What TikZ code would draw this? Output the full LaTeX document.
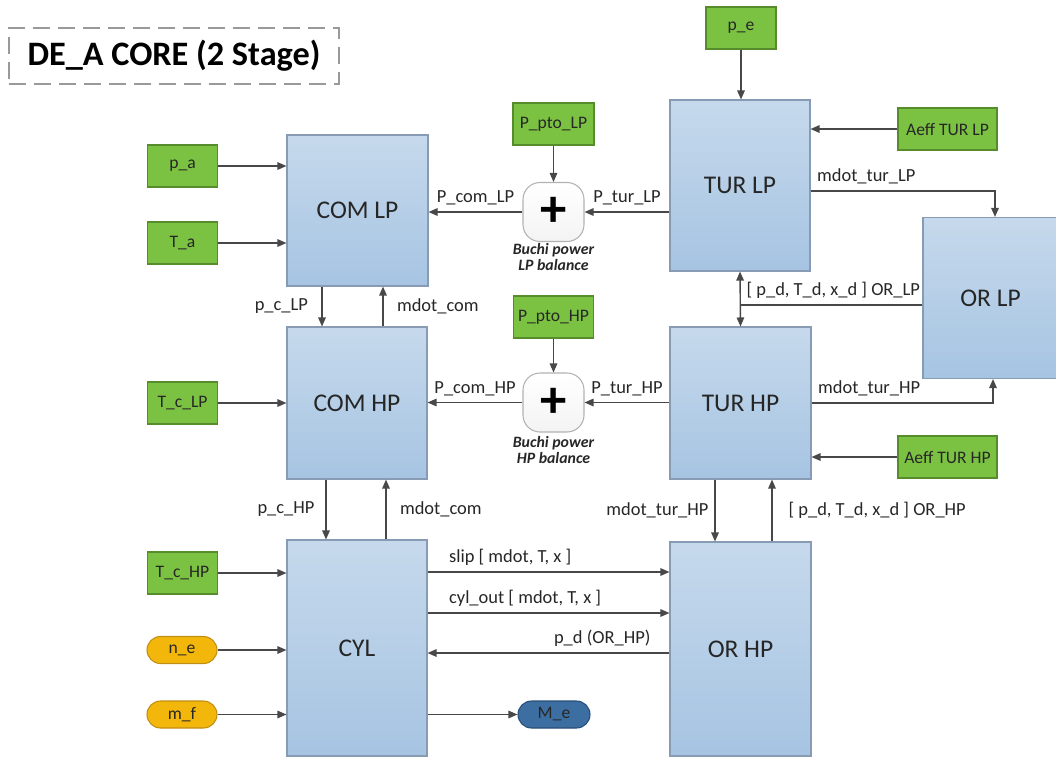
\documentclass[tikz,border=0pt]{standalone}
\usepackage{fontspec}
\setmainfont{Carlito}
\usetikzlibrary{calc,arrows.meta}

\definecolor{blktop}{RGB}{198,217,236}
\definecolor{blkbot}{RGB}{166,196,226}
\definecolor{blkline}{RGB}{135,155,180}
\definecolor{grn}{RGB}{124,194,66}
\definecolor{grnline}{RGB}{86,140,44}
\definecolor{ylw}{RGB}{243,183,12}
\definecolor{ylwline}{RGB}{192,142,18}
\definecolor{outb}{RGB}{60,110,162}
\definecolor{outbline}{RGB}{40,78,120}
\definecolor{wire}{RGB}{72,72,72}

\begin{document}
\begin{tikzpicture}[x=0.2mm,y=-0.2mm,
  >={Triangle[length=1.8mm,width=1.5mm]},
  blk/.style={draw=blkline,line width=0.6pt,top color=blktop,bottom color=blkbot,
    font=\fontsize{14.5}{16}\selectfont,text=black!85,inner sep=0pt},
  inp/.style={draw=grnline,line width=0.6pt,fill=grn,font=\fontsize{10}{12}\selectfont,
    text=black!85,minimum width=14mm,minimum height=8.4mm,inner sep=0pt},
  inr/.style={draw=ylwline,line width=0.6pt,fill=ylw,rounded corners=2.7mm,
    font=\fontsize{10}{12}\selectfont,text=black!85,minimum width=14mm,minimum height=5.4mm,inner sep=0pt},
  sumbox/.style={draw=gray!60,line width=0.6pt,top color=white,bottom color=gray!9,
    rounded corners=3.4mm,minimum width=12.2mm,minimum height=11.8mm,inner sep=0pt,
    font=\fontsize{30}{30}\selectfont\bfseries},
  note/.style={font=\fontsize{9}{9.5}\selectfont\bfseries\itshape,align=center,text=black!85},
  lbl/.style={font=\fontsize{10.5}{12}\selectfont,text=black!85},
  arr/.style={draw=wire,line width=0.8pt,->},
  link/.style={draw=wire,line width=0.8pt}]
  % 枠
  \useasboundingbox (0,0) rectangle (1056,758);
  \clip (0,0) rectangle (1056,758);
  % タイトル
  \node[draw=gray!80,dash pattern=on 3.4mm off 1.6mm,line width=0.9pt,minimum width=66mm,
    minimum height=11.2mm,font=\fontsize{19.5}{22}\selectfont\bfseries] (title) at (174,56) {DE\_A CORE (2 Stage)};
  % ブロック
  \node[blk,minimum width=28.2mm,minimum height=30.2mm] (comlp) at (357.5,210.5) {COM LP};
  \node[blk,minimum width=28mm,minimum height=30.4mm] (comhp) at (357,403) {COM HP};
  \node[blk,minimum width=28mm,minimum height=43.2mm] (cyl) at (357,648) {CYL};
  \node[blk,minimum width=28mm,minimum height=34.2mm] (turlp) at (740,185.5) {TUR LP};
  \node[blk,minimum width=28.2mm,minimum height=30.4mm] (turhp) at (740.5,403) {TUR HP};
  \node[blk,minimum width=27mm,minimum height=32.2mm] (orlp) at (990.5,298) {OR LP};
  \node[blk,minimum width=28.2mm,minimum height=42.8mm] (orhp) at (740.5,649) {OR HP};
  % 入力・出力
  \node[inp] (pa) at (182.5,166) {p\_a};
  \node[inp] (ta) at (182.5,243) {T\_a};
  \node[inp] (tclp) at (182.5,403) {T\_c\_LP};
  \node[inp] (tchp) at (182.5,573) {T\_c\_HP};
  \node[inr] (ne) at (182,650) {n\_e};
  \node[inr] (mf) at (182,714.5) {m\_f};
  \node[inr,fill=outb,draw=outbline,minimum width=14.4mm] (me) at (554,714.5) {M\_e};
  \node[inp] (pe) at (741,28) {p\_e};
  \node[inp,minimum width=19.8mm] (aefflp) at (947.5,129) {Aeff TUR LP};
  \node[inp,minimum width=19.8mm] (aeffhp) at (947.5,457) {Aeff TUR HP};
  \node[inp,minimum width=16.2mm] (pptolp) at (553.5,124) {P\_pto\_LP};
  \node[inp,minimum width=16mm] (pptohp) at (553.5,317) {P\_pto\_HP};
  % 動力バランス
  \node[sumbox] (sumlp) at (553.5,212) {+};
  \node[note] (notelp) at (553.5,257) {Buchi power\\LP balance};
  \node[sumbox] (sumhp) at (553.5,402.5) {+};
  \node[note] (notehp) at (553.5,450) {Buchi power\\HP balance};

  % 入力の矢印
  \draw[arr] (pa) -- (pa -| comlp.west);
  \draw[arr] (ta) -- (ta -| comlp.west);
  \draw[arr] (tclp) -- (tclp -| comhp.west);
  \draw[arr] (tchp) -- (tchp -| cyl.west);
  \draw[arr] (ne) -- (ne -| cyl.west);
  \draw[arr] (mf) -- (mf -| cyl.west);
  \draw[arr] (mf -| cyl.east) -- (me);
  % 動力
  \draw[arr] (pptolp) -- (sumlp);
  \draw[arr] (sumlp) -- node[lbl,above]{P\_com\_LP} (sumlp -| comlp.east);
  \draw[arr] (sumlp -| turlp.west) -- node[lbl,above]{P\_tur\_LP} (sumlp);
  \draw[arr] (pptohp) -- (sumhp);
  \draw[arr] (sumhp) -- node[lbl,above]{P\_com\_HP} (sumhp -| comhp.east);
  \draw[arr] (sumhp -| turhp.west) -- node[lbl,above]{P\_tur\_HP} (sumhp);
  % タービン
  \draw[arr] (pe) -- (pe |- turlp.north);
  \draw[arr] (aefflp) -- (aefflp -| turlp.east);
  \draw[arr] (aeffhp) -- (aeffhp -| turhp.east);
  \coordinate (tlpout) at ([yshift=-1.1mm]turlp.east);
  \draw[arr] (tlpout) node[lbl,above right]{mdot\_tur\_LP} -| ([xshift=0.9mm]orlp.north);
  \draw[arr] (turhp.east) node[lbl,above right]{mdot\_tur\_HP} -| ([xshift=0.5mm]orlp.south);
  \draw[arr,<->] (turlp.south) -- (turhp.north);
  \coordinate (orlpin) at ([yshift=-1.4mm]orlp.west);
  \draw[link] (orlpin) -- (orlpin -| turlp.south) node[lbl,above right]{[ p\_d, T\_d, x\_d ] OR\_LP};
  % 圧縮機
  \coordinate (pclp) at ([xshift=-7.1mm]comlp.south);
  \draw[arr] (pclp) -- node[lbl,left,xshift=-1.5mm]{p\_c\_LP} (pclp |- comhp.north);
  \coordinate (mclp) at ([xshift=5.1mm]comlp.south);
  \draw[arr] (mclp |- comhp.north) -- node[lbl,right,xshift=1.5mm]{mdot\_com} (mclp);
  \coordinate (pchp) at ([xshift=-6.2mm]comhp.south);
  \draw[arr] (pchp) -- node[lbl,left,xshift=-1mm]{p\_c\_HP} (pchp |- cyl.north);
  \coordinate (mchp) at ([xshift=5.8mm]comhp.south);
  \draw[arr] (mchp |- cyl.north) -- node[lbl,right,xshift=1.5mm]{mdot\_com} (mchp);
  % OR HP
  \coordinate (mthp) at ([xshift=-5.1mm]turhp.south);
  \draw[arr] (mthp) -- node[lbl,left]{mdot\_tur\_HP} (mthp |- orhp.north);
  \coordinate (dohp) at ([xshift=6.3mm]turhp.south);
  \draw[arr] (dohp |- orhp.north) -- node[lbl,right,xshift=2mm]{[ p\_d, T\_d, x\_d ] OR\_HP} (dohp);
  % シリンダ
  \coordinate (slip) at ([yshift=15.2mm]cyl.east);
  \draw[arr] (slip) node[lbl,above right,xshift=3mm]{slip [ mdot, T, x ]} -- (slip -| orhp.west);
  \coordinate (cylout) at ([yshift=7mm]cyl.east);
  \draw[arr] (cylout) node[lbl,above right,xshift=3mm]{cyl\_out [ mdot, T, x ]} -- (cylout -| orhp.west);
  \coordinate (pdhp) at ([yshift=-0.8mm]orhp.west);
  \draw[arr] (pdhp) node[lbl,above left,xshift=-2.5mm]{p\_d (OR\_HP)} -- (pdhp -| cyl.east);
\end{tikzpicture}
\end{document}
